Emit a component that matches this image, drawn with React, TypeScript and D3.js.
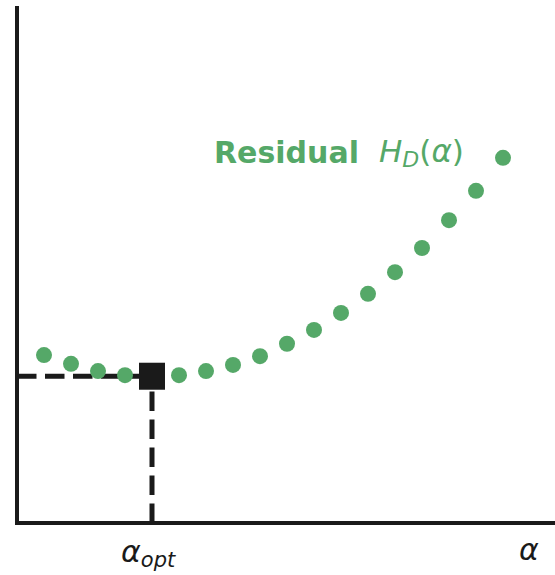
import React from "react";
import * as d3 from "d3";

const alphaIdx = [0, 1, 2, 3, 4, 5, 6, 7, 8, 9, 10, 11, 12, 13, 14, 15, 16, 17];
const residual = [3.26, 3.09, 2.95, 2.87, 2.85, 2.87, 2.95, 3.07, 3.24, 3.48, 3.75, 4.08, 4.45, 4.87, 5.34, 5.88, 6.45, 7.09];
const optIndex = 4;
const optValue = 2.85;

const W = 555;
const H = 575;
const GREEN = "#55a868";
const DARK = "#1a1a1a";
const FONT = "DejaVu Sans, sans-serif";

export default function App() {
  const x = d3.scaleLinear().domain([-1, 19]).range([17, 557]);
  const y = d3.scaleLinear().domain([0, 10]).range([523, 8]);
  const x0 = x(-1);
  const y0 = y(0);
  const ox = x(optIndex);
  const oy = y(optValue);

  return (
    <svg width={W} height={H} style={{ position: "absolute", left: 0, top: 0, background: "#fff" }}>
      {/* dashed guides */}
      <line x1={x0} y1={oy} x2={ox} y2={oy} stroke={DARK} strokeWidth={5} strokeDasharray="19.5 8.5" />
      <line x1={ox} y1={y0} x2={ox} y2={oy} stroke={DARK} strokeWidth={5} strokeDasharray="19.5 8.5" />
      {/* points */}
      {alphaIdx.map((a, i) =>
        i === optIndex ? null : (
          <circle key={i} cx={x(a)} cy={y(residual[i])} r={8} fill={GREEN} />
        )
      )}
      {/* optimum marker */}
      <rect x={ox - 13} y={oy - 13.5} width={26} height={27} fill={DARK} />
      {/* axes */}
      <line x1={x0} y1={6} x2={x0} y2={y0 + 2} stroke={DARK} strokeWidth={4} />
      <line x1={x0 - 2} y1={y0} x2={W} y2={y0} stroke={DARK} strokeWidth={4} />
      {/* label */}
      <g fill={GREEN} fontFamily={FONT} fontSize={30}>
        <text x={214} y={163} fontWeight="bold">Residual</text>
        <text x={379} y={162} fontSize={31}>
          <tspan fontStyle="italic">H</tspan>
          <tspan fontStyle="italic" fontSize={22} dy={5}>D</tspan>
          <tspan dy={-5}>(</tspan>
          <tspan fontStyle="italic">α</tspan>
          <tspan>)</tspan>
        </text>
      </g>
      {/* x labels */}
      <g fill={DARK} fontFamily={FONT} fontSize={30}>
        <text x={121} y={562} fontStyle="italic">
          <tspan>α</tspan>
          <tspan fontSize={21} dy={5}>opt</tspan>
        </text>
        <text x={519} y={560} fontStyle="italic">α</text>
      </g>
    </svg>
  );
}
